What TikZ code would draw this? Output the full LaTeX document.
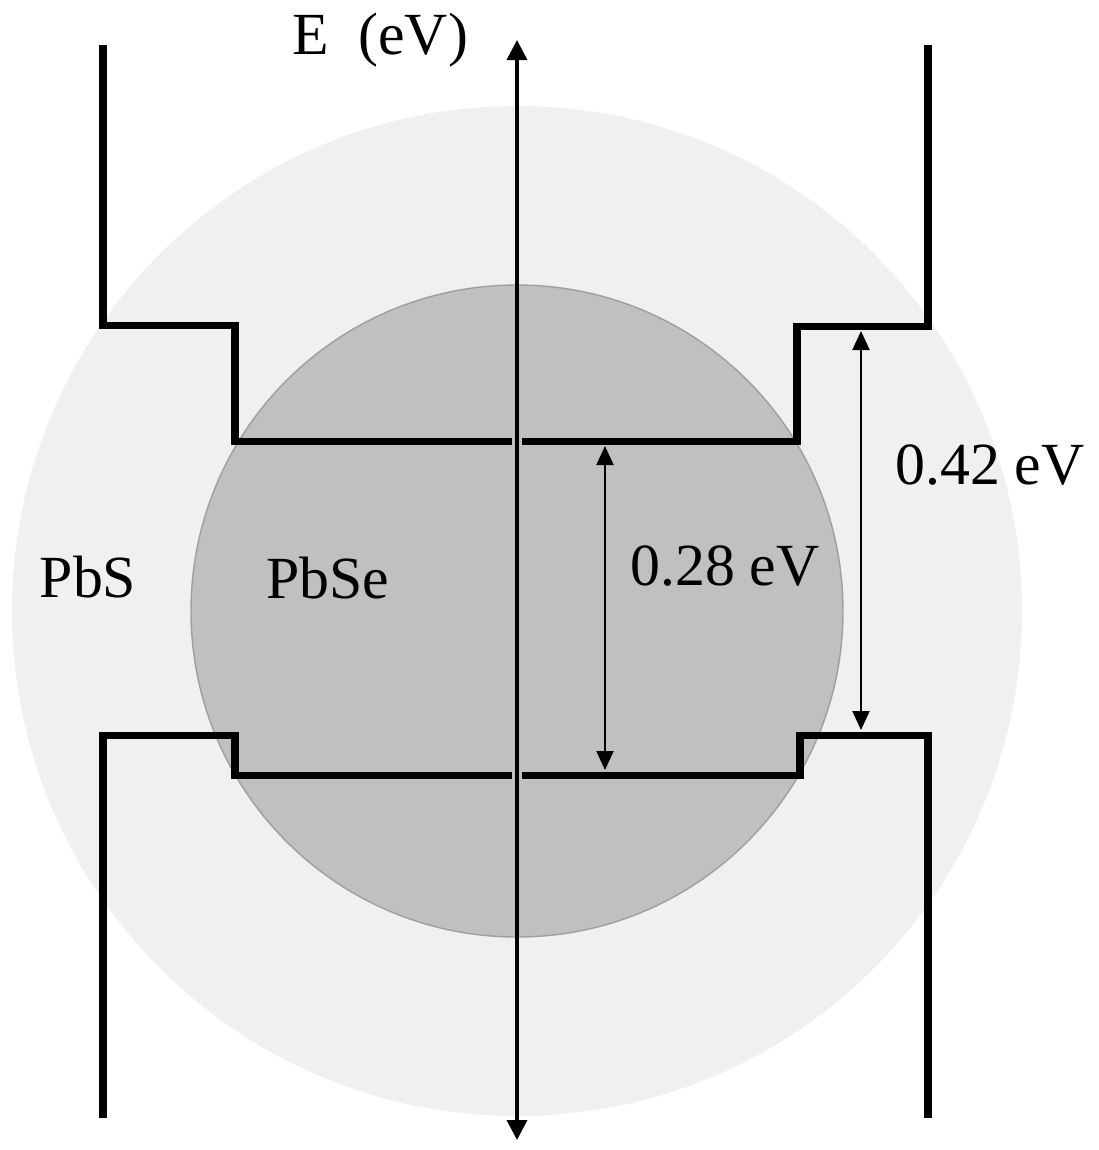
\documentclass[tikz,border=0pt]{standalone}
\usepackage{fontspec}
\setmainfont{Liberation Serif}
\usetikzlibrary{arrows.meta, positioning}
\definecolor{shellgray}{RGB}{240,240,240}
\definecolor{coregray}{RGB}{192,192,192}
\tikzset{
  shell/.style={fill=shellgray,draw=none},
  core/.style={fill=coregray,draw=gray!75,line width=0.4pt},
  band/.style={line width=0.07cm,draw=black,line join=miter},
  axis/.style={{Triangle[length=0.2cm,width=0.2cm]}-{Triangle[length=0.2cm,width=0.2cm]},line width=0.035cm},
  gaparrow/.style={{Triangle[length=0.19cm,width=0.17cm]}-{Triangle[length=0.19cm,width=0.17cm]},line width=0.02cm},
  label/.style={font=\fontsize{17}{20}\selectfont,inner sep=0pt}
}

\begin{document}
\begin{tikzpicture}[x=0.01cm,y=-0.01cm]
  \useasboundingbox (0,0) rectangle (1099,1150);

  % particle: PbS shell and PbSe core
  \fill[shell] (517,611) circle (505);
  \filldraw[core] (517,611) circle (326);

  % energy axis
  \coordinate (axbot) at (517,1140);
  \coordinate (axtop) at (517,40);
  \draw[axis] (axbot) -- (axtop);

  % conduction band edge
  \draw[band] (103,45) -- (103,325) -- (235,325) -- (235,441) -- (512,441);
  \draw[band] (522,441) -- (797,441) -- (797,326) -- (928,326) -- (928,45);

  % valence band edge
  \draw[band] (103,1118) -- (103,735) -- (235,735) -- (235,775) -- (512,775);
  \draw[band] (522,775) -- (800,775) -- (800,735) -- (928,735) -- (928,1118);

  % band gaps
  \coordinate (cbse) at (605,446);
  \coordinate (vbse) at (605,770);
  \draw[gaparrow] (cbse) -- (vbse);
  \coordinate (cbs) at (861,331);
  \coordinate (vbs) at (861,730);
  \draw[gaparrow] (cbs) -- (vbs);

  % labels
  \node[label] (elabel) at (380,40) {E\ \ (eV)};
  \node[label] (gapse) at (725,566) {0.28 eV};
  \node[label] (gaps) at (990,465) {0.42 eV};
  \node[label] (pbs) at (88,577) {PbS};
  \node[label] (pbse) at (328,578) {PbSe};
\end{tikzpicture}
\end{document}
